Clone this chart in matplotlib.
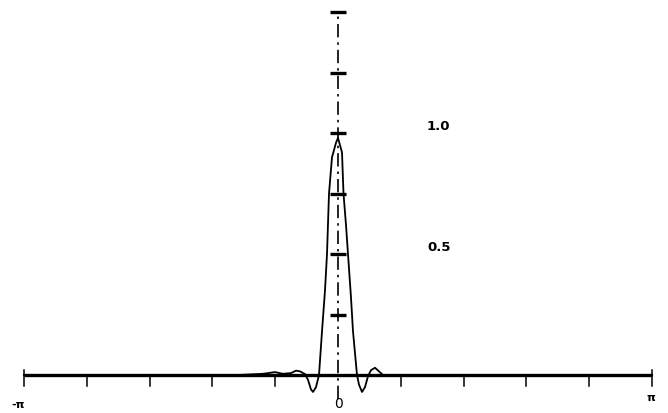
import numpy as np
import matplotlib
matplotlib.use("Agg")
import matplotlib.pyplot as plt

# kernel (theta in radians, value)
theta = [-np.pi, -2.5, -2.0, -1.5, -1.0, -0.75, -0.63, -0.55, -0.47, -0.42,
         -0.38, -0.33, -0.30, -0.27, -0.25, -0.22, -0.19, -0.17, -0.16, -0.13,
         -0.11, -0.09, -0.06, -0.02, 0.0, 0.04, 0.055, 0.08, 0.10, 0.13,
         0.15, 0.19, 0.21, 0.24, 0.27, 0.30, 0.33, 0.37, 0.41, 0.45,
         0.6, 1.0, 1.5, 2.0, 2.5, np.pi]
kern = [0.0, 0.0, 0.0, 0.0, 0.0, 0.005, 0.012, 0.005, 0.008, 0.018,
        0.015, 0.004, -0.02, -0.06, -0.07, -0.05, 0.0, 0.12, 0.18, 0.35,
        0.5, 0.75, 0.9, 0.96, 0.98, 0.92, 0.75, 0.62, 0.5, 0.32,
        0.18, 0.0, -0.04, -0.07, -0.05, -0.005, 0.02, 0.03, 0.015, 0.0,
        0.0, 0.0, 0.0, 0.0, 0.0, 0.0]

yticks = [0.25, 0.5, 0.75, 1.0, 1.25, 1.5]
ylabels = {1.0: "1.0", 0.5: "0.5"}

fig = plt.figure(figsize=(6.68, 4.14), dpi=100)
ax = fig.add_axes([0, 0, 1, 1])
ax.set_xlim(-3.38, 3.30)
ax.set_ylim(-0.157, 1.554)
ax.axis("off")

# x axis and its ticks
ax.plot([-np.pi, np.pi], [0, 0], color="black", lw=2.4, solid_capstyle="butt")
for k in range(-5, 6):
    if k == 0:
        continue
    xt = k * np.pi / 5
    top = 0.02 if abs(k) == 5 else 0.0
    ax.plot([xt, xt], [top, -0.045], color="black", lw=1.1)

# vertical dash-dot axis with bar ticks
ax.plot([0, 0], [-0.1, 1.5], color="black", lw=1.2, linestyle=(0, (8, 3, 1.5, 3)))
for yt in yticks:
    ax.plot([-0.08, 0.08], [yt, yt], color="black", lw=2.4, solid_capstyle="butt")
for yt, lab in ylabels.items():
    ax.text(0.89, yt + 0.03, lab, fontsize=9.5, fontweight="bold", ha="left", va="center")

# the kernel
ax.plot(theta, kern, color="black", lw=1.3)

ax.text(-3.2, -0.12, "-π", fontsize=8, fontweight="bold", ha="center", va="center")
ax.text(0.0, -0.115, "0", fontsize=10, ha="center", va="center")
ax.text(3.13, -0.09, "π", fontsize=8, fontweight="bold", ha="center", va="center")

fig.savefig("out.png", dpi=100, facecolor="white")
